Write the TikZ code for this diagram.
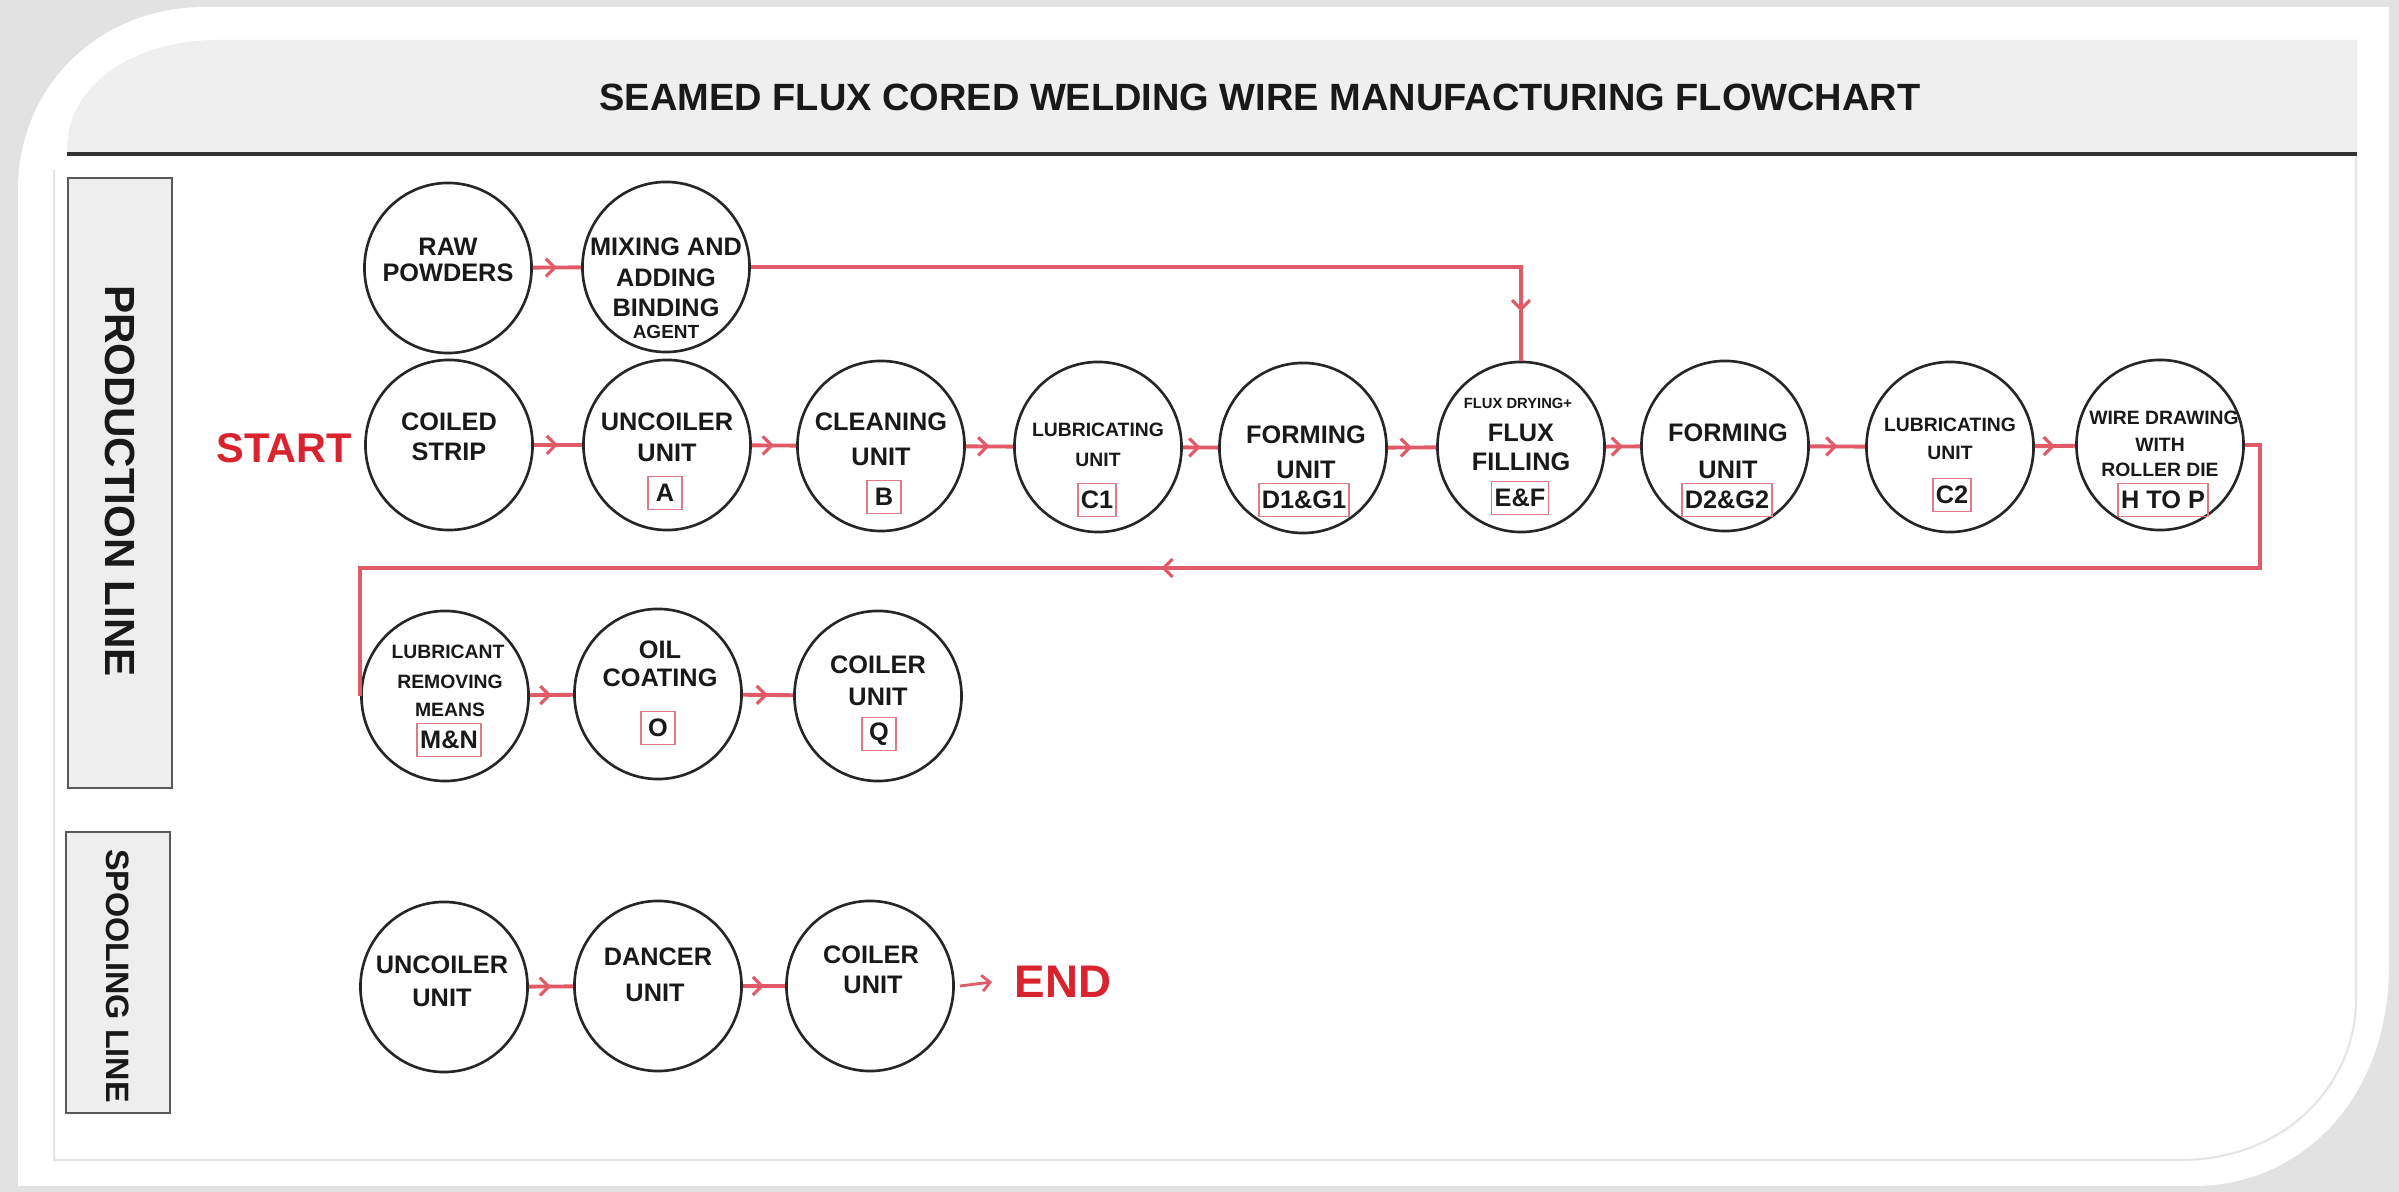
\documentclass[tikz,border=0pt]{standalone}
\usepackage{fontspec}
\setmainfont{Liberation Sans}
\usetikzlibrary{shapes.geometric, arrows.meta, decorations.markings, calc}
\definecolor{lred}{HTML}{E05A67}
\definecolor{tred}{HTML}{D9232E}
\definecolor{codered}{HTML}{E07A86}
\definecolor{bandgray}{HTML}{EFEFEF}
\definecolor{bggray}{HTML}{E2E2E2}
\definecolor{boxgray}{HTML}{EEEEEE}
\tikzset{
 circ/.style={draw=black!85, line width=0.75pt, ellipse, minimum width=1.67cm, minimum height=1.70cm, inner sep=0pt},
 bt/.style={font=\fontsize{7.2}{8}\selectfont\bfseries, inner sep=0pt, text=black!90},
 st/.style={font=\fontsize{5.5}{6}\selectfont\bfseries, inner sep=0pt, text=black!90},
 tt/.style={font=\fontsize{4.2}{5}\selectfont\bfseries, inner sep=0pt, text=black!90},
 code/.style={draw=codered, line width=0.45pt, font=\fontsize{7.2}{8}\selectfont\bfseries, inner xsep=0.03cm, inner ysep=0pt, minimum height=0.33cm, minimum width=0.34cm, text=black!90},
 flow/.style={draw=lred, line width=1.1pt, postaction={decorate}, decoration={markings, mark=at position #1 with {\arrow{Straight Barb[length=0.09cm, width=0.18cm, line width=0.9pt]}}}},
 flow/.default=0.5,
 sidebox/.style={draw=black!65, fill=boxgray, line width=0.7pt},
 sidetext/.style={font=\bfseries, inner sep=0pt, rotate=-90, text=black!90},
}
\begin{document}
\begin{tikzpicture}[x=0.01cm, y=-0.01cm]
% background and card
\fill[bggray] (0,0) rectangle (2399,1192);
\useasboundingbox (0,0) rectangle (2399,1192);
\fill[white] (18,190) .. controls (18,85) and (100,7) .. (205,7) -- (2389,7) -- (2389,965) .. controls (2389,1100) and (2300,1186) .. (2194,1186) -- (18,1186) -- cycle;
% inner panel border
\draw[black!10, line width=0.6pt] (54,170) -- (54,1160) -- (2180,1160) .. controls (2290,1160) and (2356,1080) .. (2356,1000) -- (2356,40);
% title band
\fill[bandgray] (67,154) -- (67,150) .. controls (67,80) and (140,40) .. (217,40) -- (2357,40) -- (2357,154) -- cycle;
\draw[black!80, line width=1.2pt] (67,154) -- (2357,154);
\node[font=\fontsize{10.8}{12}\selectfont\bfseries, inner sep=0pt, text=black!90] (title) at (1260,97) {SEAMED FLUX CORED WELDING WIRE MANUFACTURING FLOWCHART};
% side boxes
\draw[sidebox] (68,178) rectangle (172,788);
\node[sidetext, font=\fontsize{12}{14}\selectfont\bfseries] (prodlbl) at (120,481) {PRODUCTION LINE};
\draw[sidebox] (66,832) rectangle (170,1113);
\node[sidetext, font=\fontsize{9.2}{11}\selectfont\bfseries] (spoollbl) at (118,976) {SPOOLING LINE};
% START / END
\node[font=\fontsize{11.8}{14}\selectfont\bfseries, text=tred, inner sep=0pt] (start) at (284,448) {START};
\node[font=\fontsize{13}{15}\selectfont\bfseries, text=tred, inner sep=0pt] (end) at (1063,982) {END};
% circles
\node[circ] (raw) at (448,268) {};
\node[circ] (mix) at (666,267) {};
\node[circ] (coil) at (449,445) {};
\node[circ] (unc) at (667,445) {};
\node[circ] (cln) at (881,446) {};
\node[circ] (lubA) at (1098,447) {};
\node[circ] (frmA) at (1303,448) {};
\node[circ] (flux) at (1521,447) {};
\node[circ] (frmB) at (1725,446) {};
\node[circ] (lubB) at (1950,447) {};
\node[circ] (wire) at (2160,445) {};
\node[circ] (lrm) at (445,696) {};
\node[circ] (oil) at (658,694) {};
\node[circ] (col) at (878,696) {};
\node[circ] (su) at (444,987) {};
\node[circ] (sd) at (658,986) {};
\node[circ] (sc) at (870,986) {};
% texts
\node[bt] (raw1) at (448,247) {RAW};
\node[bt] (raw2) at (448,273) {POWDERS};
\node[bt] (mix1) at (666,247) {MIXING AND};
\node[bt] (mix2) at (666,278) {ADDING};
\node[bt] (mix3) at (666,308) {BINDING};
\node[font=\fontsize{5.4}{6}\selectfont\bfseries, inner sep=0pt, text=black!90] (mix4) at (666,332) {AGENT};
\node[bt] (coil1) at (449,422) {COILED};
\node[bt] (coil2) at (449,452) {STRIP};
\node[bt] (unc1) at (667,422) {UNCOILER};
\node[bt] (unc2) at (667,453) {UNIT};
\node[code] (cA) at (665,493) {A};
\node[bt] (cln1) at (881,422) {CLEANING};
\node[bt] (cln2) at (881,457) {UNIT};
\node[code] (cB) at (884,497) {B};
\node[st] (lubA1) at (1098,430) {LUBRICATING};
\node[st] (lubA2) at (1098,460) {UNIT};
\node[code] (cC1) at (1097,500) {C1};
\node[bt] (frmA1) at (1306,435) {FORMING};
\node[bt] (frmA2) at (1306,470) {UNIT};
\node[code] (cD1) at (1304,500) {D1\&G1};
\node[tt] (flux0) at (1518,403) {FLUX DRYING+};
\node[bt] (flux1) at (1521,433) {FLUX};
\node[bt] (flux2) at (1521,462) {FILLING};
\node[code] (cEF) at (1520,498) {E\&F};
\node[bt] (frmB1) at (1728,433) {FORMING};
\node[bt] (frmB2) at (1728,470) {UNIT};
\node[code] (cD2) at (1727,500) {D2\&G2};
\node[st] (lubB1) at (1950,425) {LUBRICATING};
\node[st] (lubB2) at (1950,453) {UNIT};
\node[code] (cC2) at (1952,495) {C2};
\node[st] (wire1) at (2164,418) {WIRE DRAWING};
\node[st] (wire2) at (2160,445) {WITH};
\node[st] (wire3) at (2160,470) {ROLLER DIE};
\node[code] (cH) at (2163,500) {H TO P};
\node[st] (lrm1) at (448,652) {LUBRICANT};
\node[st] (lrm2) at (450,682) {REMOVING};
\node[st] (lrm3) at (450,710) {MEANS};
\node[code] (cMN) at (449,740) {M\&N};
\node[bt] (oil1) at (660,650) {OIL};
\node[bt] (oil2) at (660,678) {COATING};
\node[code] (cO) at (658,728) {O};
\node[bt] (col1) at (878,665) {COILER};
\node[bt] (col2) at (878,697) {UNIT};
\node[code] (cQ) at (879,734) {Q};
\node[bt] (su1) at (442,965) {UNCOILER};
\node[bt] (su2) at (442,998) {UNIT};
\node[bt] (sd1) at (658,957) {DANCER};
\node[bt] (sd2) at (655,993) {UNIT};
\node[bt] (sc1) at (871,955) {COILER};
\node[bt] (sc2) at (873,985) {UNIT};
% connectors
\draw[flow] (raw) -- (mix);
\draw[flow=0.943] (mix.east) -| (flux.north);
\draw[flow] (coil) -- (unc);
\draw[flow] (unc) -- (cln);
\draw[flow] (cln) -- (lubA);
\draw[flow] (lubA) -- (frmA);
\draw[flow] (frmA) -- (flux);
\draw[flow] (flux) -- (frmB);
\draw[flow] (frmB) -- (lubB);
\draw[flow] (lubB) -- (wire);
\coordinate (r1) at (2260,568);
\draw[flow=0.571] (wire.east) -| (r1) -- (r1 -| lrm.west) -- (lrm.west);
\draw[flow] (lrm) -- (oil);
\draw[flow] (oil) -- (col);
\draw[flow] (su) -- (sd);
\draw[flow] (sd) -- (sc);
\draw[draw=lred, line width=0.8pt, -{Straight Barb[length=0.08cm, width=0.16cm, line width=0.8pt]}] ([xshift=0.05cm]sc.east) -- ([xshift=-0.22cm]end.west);
\end{tikzpicture}
\end{document}
